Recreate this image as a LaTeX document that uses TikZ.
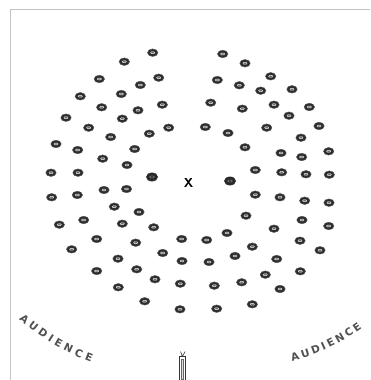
\documentclass[tikz,border=0pt]{standalone}
\usepackage{fontspec}
\newfontfamily\audfont{DejaVu Sans}
\usetikzlibrary{shapes.geometric,decorations.text}
\definecolor{seatcol}{HTML}{2E2E2E}
\definecolor{framecol}{HTML}{C8C2C2}
\definecolor{txtcol}{HTML}{505050}
\tikzset{
  seat/.style={ellipse,fill=seatcol,draw=seatcol!80,line width=0.4pt,minimum width=10.5pt,minimum height=7.6pt,inner sep=0pt,
    path picture={\draw[white!85!gray,line width=0.45pt,fill=seatcol!70,rounded corners=0.8pt]
      ([xshift=-2pt,yshift=-0.95pt]path picture bounding box.center) rectangle
      ([xshift=2pt,yshift=0.95pt]path picture bounding box.center);}},
  bigseat/.style={ellipse,fill=seatcol!90!black,draw=seatcol,line width=0.3pt,minimum width=11.5pt,minimum height=8.4pt,inner sep=0pt,
    path picture={\draw[gray!60,line width=0.4pt,rounded corners=0.8pt]
      ([xshift=-2.2pt,yshift=-1pt]path picture bounding box.center) rectangle
      ([xshift=2.2pt,yshift=1pt]path picture bounding box.center);}},
  audtext/.style={font=\audfont\bfseries\fontsize{10.5}{11}\selectfont,decorate,decoration={text along path,text align={fit to path},
    text={|\audfont\bfseries\fontsize{10.5}{11}\selectfont\color{txtcol}|AUDIENCE}}}
}
\begin{document}
\begin{tikzpicture}[x=1pt,y=1pt]
\useasboundingbox (0,0) rectangle (370,380);
\fill[white] (0,0) rectangle (370,380);
% frame lines
\draw[framecol,line width=1pt] (10,0) -- (10,370) -- (370,370);
% seats
\foreach \x/\y [count=\i] in {
152.7/52.7, 124.3/61.7, 222.7/54, 245/63.3, 99.3/79, 158.7/77.7, 140.3/85, 217.3/80, 239.3/85.3, 270.7/76.3,
260.7/90.7, 292/89.3, 80.3/96.3, 121.3/94, 101.7/107.3, 138/110.3, 162.3/104.7, 210.7/102.7, 242.3/108.7, 274/104.7,
289/115.7, 309.3/107, 66/117.7, 122.3/118.7, 88.7/127.7, 110.7/137, 149.3/133.7, 168.7/127.7, 205.3/127, 228/133,
266.7/127.7, 319/126, 301/137.7, 56/144, 77.7/150, 134.7/149, 245/147.3, 281/153, 301.7/157, 328.7/151.3,
102.7/158.7, 127/165, 51/172.7, 78/172.7, 255.3/170, 281.7/172.3, 306/174.3, 329.3/174.7, 104/190, 126.5/189,
51.7/197.3, 77.3/195, 255.3/194.7, 280/197.3, 304.7/200.7, 329/202.7, 114.3/206.7, 139/212, 59.3/224.7, 83.7/220,
122.3/223.7, 153.7/227.3, 246/215.7, 302/220, 328.7/226, 274/228.7, 96.7/239, 135.7/242.7, 181.7/239, 206.7/240,
227/233, 252.3/246.7, 300/240.7, 320/250.3, 71.7/249.3, 162.7/253, 182/261, 209/262, 235/256, 118/258.7,
276.7/259, 96.7/271, 136.7/269.3, 155/279.3, 180.3/283.7, 214.3/285.7, 241.7/282.3, 265.3/274.7, 300.3/271.3, 118.3/287.3,
280/289, 144.7/301.3, 180/309.3, 216.7/308.7, 252.3/304.3}
  \node[seat] (s\i) at (\x,{380-\y}) {};
% special seats and X
\node[bigseat] (lead1) at (152,{380-177}) {};
\node[bigseat] (lead2) at (230,{380-181}) {};
\node[font=\sffamily\bfseries\fontsize{13}{14}\selectfont,inner sep=0pt] (xmark) at (188.7,{380-182.5}) {X};
% camera
\node[draw=black!80,line width=0.7pt,minimum width=6.5pt,minimum height=25pt,inner sep=0pt,anchor=north,fill=white] (cam) at (182.3,{380-356.5}) {};
\node[draw=black!60,line width=0.4pt,fill=gray!25,minimum width=2.6pt,minimum height=20pt,inner sep=0pt] (camin) at (cam.center) {};
\coordinate (antL) at (180.6,{380-351.5});
\coordinate (antR) at (185.2,{380-351.5});
\draw[black!80,line width=0.6pt] (antL) -- (cam.north) -- (antR);
% audience labels
\path[audtext] (19,61) to[bend right=10] (91,18);
\path[audtext] (292,19) to[bend right=10] (362,52);
\end{tikzpicture}
\end{document}
